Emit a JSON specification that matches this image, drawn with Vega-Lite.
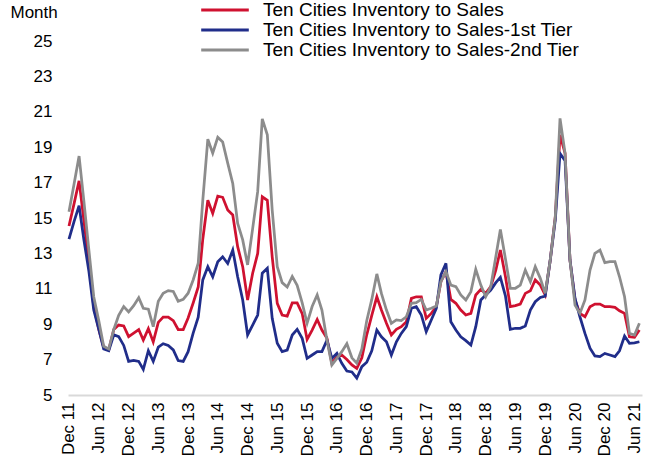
{
  "$schema": "https://vega.github.io/schema/vega-lite/v6.json",
  "width": 574,
  "height": 354,
  "autosize": {"type": "none"},
  "padding": {"left": 68, "top": 41, "right": 9, "bottom": 66},
  "background": "white",
  "config": {"font": "Liberation Sans", "view": {"stroke": null}},
  "data": {"values": [
    {"date": "2011/12/01", "a": 14.55, "b": 13.8, "c": 15.36},
    {"date": "2012/01/01", "a": 15.8, "b": 14.8, "c": 16.9},
    {"date": "2012/02/01", "a": 17.1, "b": 15.7, "c": 18.5},
    {"date": "2012/03/01", "a": 14.9, "b": 13.8, "c": 16.0},
    {"date": "2012/04/01", "a": 12.5, "b": 12.0, "c": 13.2},
    {"date": "2012/05/01", "a": 10.0, "b": 9.8, "c": 10.55},
    {"date": "2012/06/01", "a": 8.7, "b": 8.7, "c": 9.2},
    {"date": "2012/07/01", "a": 7.7, "b": 7.6, "c": 7.75},
    {"date": "2012/08/01", "a": 7.55, "b": 7.5, "c": 7.6},
    {"date": "2012/09/01", "a": 8.7, "b": 8.4, "c": 8.7},
    {"date": "2012/10/01", "a": 8.95, "b": 8.3, "c": 9.5},
    {"date": "2012/11/01", "a": 8.9, "b": 7.8, "c": 10.0},
    {"date": "2012/12/01", "a": 8.3, "b": 6.9, "c": 9.7},
    {"date": "2013/01/01", "a": 8.5, "b": 6.95, "c": 10.05},
    {"date": "2013/02/01", "a": 8.7, "b": 6.9, "c": 10.5},
    {"date": "2013/03/01", "a": 8.1, "b": 6.45, "c": 9.9},
    {"date": "2013/04/01", "a": 8.75, "b": 7.5, "c": 9.85},
    {"date": "2013/05/01", "a": 8.0, "b": 6.9, "c": 8.86},
    {"date": "2013/06/01", "a": 9.1, "b": 7.7, "c": 10.3},
    {"date": "2013/07/01", "a": 9.4, "b": 7.9, "c": 10.75},
    {"date": "2013/08/01", "a": 9.4, "b": 7.8, "c": 10.9},
    {"date": "2013/09/01", "a": 9.2, "b": 7.55, "c": 10.85},
    {"date": "2013/10/01", "a": 8.7, "b": 6.95, "c": 10.3},
    {"date": "2013/11/01", "a": 8.7, "b": 6.9, "c": 10.4},
    {"date": "2013/12/01", "a": 9.35, "b": 7.45, "c": 10.75},
    {"date": "2014/01/01", "a": 10.2, "b": 8.5, "c": 11.5},
    {"date": "2014/02/01", "a": 11.1, "b": 9.4, "c": 12.45},
    {"date": "2014/03/01", "a": 13.8, "b": 11.5, "c": 16.0},
    {"date": "2014/04/01", "a": 16.0, "b": 12.25, "c": 19.45},
    {"date": "2014/05/01", "a": 15.26, "b": 11.68, "c": 18.66},
    {"date": "2014/06/01", "a": 16.24, "b": 12.53, "c": 19.56},
    {"date": "2014/07/01", "a": 16.17, "b": 12.81, "c": 19.3},
    {"date": "2014/08/01", "a": 15.45, "b": 12.43, "c": 18.1},
    {"date": "2014/09/01", "a": 15.17, "b": 13.19, "c": 16.95},
    {"date": "2014/10/01", "a": 13.38, "b": 11.68, "c": 14.7},
    {"date": "2014/11/01", "a": 12.25, "b": 10.37, "c": 13.76},
    {"date": "2014/12/01", "a": 10.37, "b": 8.39, "c": 12.35},
    {"date": "2015/01/01", "a": 11.88, "b": 8.95, "c": 14.4},
    {"date": "2015/02/01", "a": 13.0, "b": 9.52, "c": 16.5},
    {"date": "2015/03/01", "a": 16.2, "b": 11.88, "c": 20.6},
    {"date": "2015/04/01", "a": 16.0, "b": 12.16, "c": 19.7},
    {"date": "2015/05/01", "a": 12.81, "b": 9.33, "c": 15.45},
    {"date": "2015/06/01", "a": 10.18, "b": 7.92, "c": 12.25},
    {"date": "2015/07/01", "a": 9.52, "b": 7.45, "c": 11.35},
    {"date": "2015/08/01", "a": 9.46, "b": 7.54, "c": 11.1},
    {"date": "2015/09/01", "a": 10.2, "b": 8.39, "c": 11.7},
    {"date": "2015/10/01", "a": 10.2, "b": 8.71, "c": 11.2},
    {"date": "2015/11/01", "a": 9.6, "b": 8.2, "c": 10.2},
    {"date": "2015/12/01", "a": 8.14, "b": 7.07, "c": 9.05},
    {"date": "2016/01/01", "a": 8.67, "b": 7.26, "c": 10.0},
    {"date": "2016/02/01", "a": 9.27, "b": 7.45, "c": 10.65},
    {"date": "2016/03/01", "a": 8.67, "b": 7.45, "c": 9.8},
    {"date": "2016/04/01", "a": 8.2, "b": 8.1, "c": 8.1},
    {"date": "2016/05/01", "a": 6.79, "b": 7.07, "c": 6.7},
    {"date": "2016/06/01", "a": 7.17, "b": 7.35, "c": 7.07},
    {"date": "2016/07/01", "a": 7.26, "b": 6.79, "c": 7.45},
    {"date": "2016/08/01", "a": 7.0, "b": 6.35, "c": 7.9},
    {"date": "2016/09/01", "a": 6.7, "b": 6.3, "c": 7.1},
    {"date": "2016/10/01", "a": 6.5, "b": 5.95, "c": 6.8},
    {"date": "2016/11/01", "a": 7.1, "b": 6.6, "c": 7.6},
    {"date": "2016/12/01", "a": 8.4, "b": 6.85, "c": 9.2},
    {"date": "2017/01/01", "a": 9.5, "b": 7.5, "c": 10.4},
    {"date": "2017/02/01", "a": 10.55, "b": 8.67, "c": 11.84},
    {"date": "2017/03/01", "a": 9.8, "b": 8.29, "c": 10.74},
    {"date": "2017/04/01", "a": 9.05, "b": 8.01, "c": 9.8},
    {"date": "2017/05/01", "a": 8.39, "b": 7.26, "c": 9.05},
    {"date": "2017/06/01", "a": 8.71, "b": 8.01, "c": 9.24},
    {"date": "2017/07/01", "a": 8.86, "b": 8.48, "c": 9.2},
    {"date": "2017/08/01", "a": 9.14, "b": 8.86, "c": 9.42},
    {"date": "2017/09/01", "a": 10.46, "b": 9.9, "c": 10.18},
    {"date": "2017/10/01", "a": 10.55, "b": 9.99, "c": 10.22},
    {"date": "2017/11/01", "a": 10.55, "b": 9.52, "c": 10.4},
    {"date": "2017/12/01", "a": 9.33, "b": 8.58, "c": 9.8},
    {"date": "2018/01/01", "a": 9.61, "b": 9.24, "c": 9.9},
    {"date": "2018/02/01", "a": 9.99, "b": 9.9, "c": 10.03},
    {"date": "2018/03/01", "a": 11.4, "b": 11.78, "c": 11.4},
    {"date": "2018/04/01", "a": 11.97, "b": 12.44, "c": 11.97},
    {"date": "2018/05/01", "a": 10.4, "b": 9.14, "c": 11.21},
    {"date": "2018/06/01", "a": 10.18, "b": 8.67, "c": 11.12},
    {"date": "2018/07/01", "a": 9.8, "b": 8.29, "c": 10.65},
    {"date": "2018/08/01", "a": 9.52, "b": 8.07, "c": 10.37},
    {"date": "2018/09/01", "a": 9.61, "b": 7.82, "c": 10.84},
    {"date": "2018/10/01", "a": 10.65, "b": 8.86, "c": 12.1},
    {"date": "2018/11/01", "a": 10.97, "b": 10.37, "c": 11.21},
    {"date": "2018/12/01", "a": 10.74, "b": 10.65, "c": 10.55},
    {"date": "2019/01/01", "a": 11.12, "b": 10.93, "c": 11.12},
    {"date": "2019/02/01", "a": 12.06, "b": 11.35, "c": 12.81},
    {"date": "2019/03/01", "a": 13.19, "b": 11.65, "c": 14.35},
    {"date": "2019/04/01", "a": 11.7, "b": 10.6, "c": 12.7},
    {"date": "2019/05/01", "a": 9.99, "b": 8.71, "c": 11.03},
    {"date": "2019/06/01", "a": 10.05, "b": 8.77, "c": 11.03},
    {"date": "2019/07/01", "a": 10.14, "b": 8.77, "c": 11.21},
    {"date": "2019/08/01", "a": 10.74, "b": 8.9, "c": 12.06},
    {"date": "2019/09/01", "a": 10.89, "b": 9.8, "c": 11.4},
    {"date": "2019/10/01", "a": 11.5, "b": 10.27, "c": 12.25},
    {"date": "2019/11/01", "a": 11.21, "b": 10.51, "c": 11.59},
    {"date": "2019/12/01", "a": 10.65, "b": 10.59, "c": 10.74},
    {"date": "2020/01/01", "a": 12.63, "b": 12.63, "c": 12.63},
    {"date": "2020/02/01", "a": 15.07, "b": 14.89, "c": 15.07},
    {"date": "2020/03/01", "a": 19.69, "b": 18.65, "c": 20.63},
    {"date": "2020/04/01", "a": 18.65, "b": 18.24, "c": 18.65},
    {"date": "2020/05/01", "a": 12.63, "b": 12.63, "c": 12.63},
    {"date": "2020/06/01", "a": 10.37, "b": 10.46, "c": 10.08},
    {"date": "2020/07/01", "a": 9.61, "b": 9.42, "c": 9.61},
    {"date": "2020/08/01", "a": 9.42, "b": 8.48, "c": 10.37},
    {"date": "2020/09/01", "a": 9.99, "b": 7.64, "c": 12.06},
    {"date": "2020/10/01", "a": 10.14, "b": 7.21, "c": 13.0},
    {"date": "2020/11/01", "a": 10.14, "b": 7.17, "c": 13.19},
    {"date": "2020/12/01", "a": 9.99, "b": 7.35, "c": 12.48},
    {"date": "2021/01/01", "a": 9.99, "b": 7.26, "c": 12.53},
    {"date": "2021/02/01", "a": 9.95, "b": 7.17, "c": 12.53},
    {"date": "2021/03/01", "a": 9.76, "b": 7.5, "c": 11.68},
    {"date": "2021/04/01", "a": 9.61, "b": 8.33, "c": 10.55},
    {"date": "2021/05/01", "a": 8.29, "b": 7.92, "c": 8.48},
    {"date": "2021/06/01", "a": 8.26, "b": 7.95, "c": 8.39},
    {"date": "2021/07/01", "a": 8.67, "b": 8.01, "c": 9.05}
  ]},
  "transform": [{"fold": ["a", "b", "c"], "as": ["s", "value"]}],
  "mark": {"type": "line", "strokeWidth": 2.75},
  "encoding": {
    "x": {
      "field": "date", "type": "temporal",
      "scale": {"domain": [{"year": 2011, "month": 11, "date": 25}, {"year": 2021, "month": 7, "date": 17}]},
      "axis": {
        "title": null,
        "values": [
          {"year": 2011, "month": 12, "date": 1}, {"year": 2012, "month": 6, "date": 1},
          {"year": 2012, "month": 12, "date": 1}, {"year": 2013, "month": 6, "date": 1},
          {"year": 2013, "month": 12, "date": 1}, {"year": 2014, "month": 6, "date": 1},
          {"year": 2014, "month": 12, "date": 1}, {"year": 2015, "month": 6, "date": 1},
          {"year": 2015, "month": 12, "date": 1}, {"year": 2016, "month": 6, "date": 1},
          {"year": 2016, "month": 12, "date": 1}, {"year": 2017, "month": 6, "date": 1},
          {"year": 2017, "month": 12, "date": 1}, {"year": 2018, "month": 6, "date": 1},
          {"year": 2018, "month": 12, "date": 1}, {"year": 2019, "month": 6, "date": 1},
          {"year": 2019, "month": 12, "date": 1}, {"year": 2020, "month": 6, "date": 1},
          {"year": 2020, "month": 12, "date": 1}, {"year": 2021, "month": 6, "date": 1}
        ],
        "format": "%b %y",
        "labelAngle": -90,
        "labelFontSize": 17,
        "labelColor": "#000000",
        "labelPadding": 7,
        "labelFlush": false,
        "labelOverlap": false,
        "ticks": false,
        "grid": false,
        "domainColor": "#d9d9d9",
        "domainWidth": 2
      }
    },
    "y": {
      "field": "value", "type": "quantitative",
      "scale": {"domain": [5, 25], "zero": false, "nice": false},
      "axis": {
        "title": "Month",
        "titleAngle": 0,
        "titleX": -58,
        "titleY": -29,
        "titleAlign": "left",
        "titleBaseline": "middle",
        "titleFontWeight": "normal",
        "titleFontSize": 17,
        "titleColor": "#000000",
        "values": [5, 7, 9, 11, 13, 15, 17, 19, 21, 23, 25],
        "labelFontSize": 17,
        "labelColor": "#000000",
        "labelPadding": 16,
        "ticks": false,
        "domain": false,
        "grid": false
      }
    },
    "color": {
      "field": "s", "type": "nominal",
      "scale": {"domain": ["a", "b", "c"], "range": ["#cf1130", "#202d8a", "#8c8c8c"]},
      "legend": {
        "title": null,
        "orient": "none",
        "legendX": 135,
        "legendY": -41,
        "padding": 0,
        "rowPadding": 0,
        "symbolType": "M-2.8,0H2.8",
        "symbolSize": 289,
        "symbolStrokeWidth": 3,
        "symbolOffset": 12,
        "labelOffset": 28,
        "labelFontSize": 19,
        "labelColor": "#000000",
        "labelLimit": 500,
        "labelExpr": "datum.label == 'a' ? 'Ten Cities Inventory to Sales' : datum.label == 'b' ? 'Ten Cities Inventory to Sales-1st Tier' : 'Ten Cities Inventory to Sales-2nd Tier'"
      }
    }
  }
}
